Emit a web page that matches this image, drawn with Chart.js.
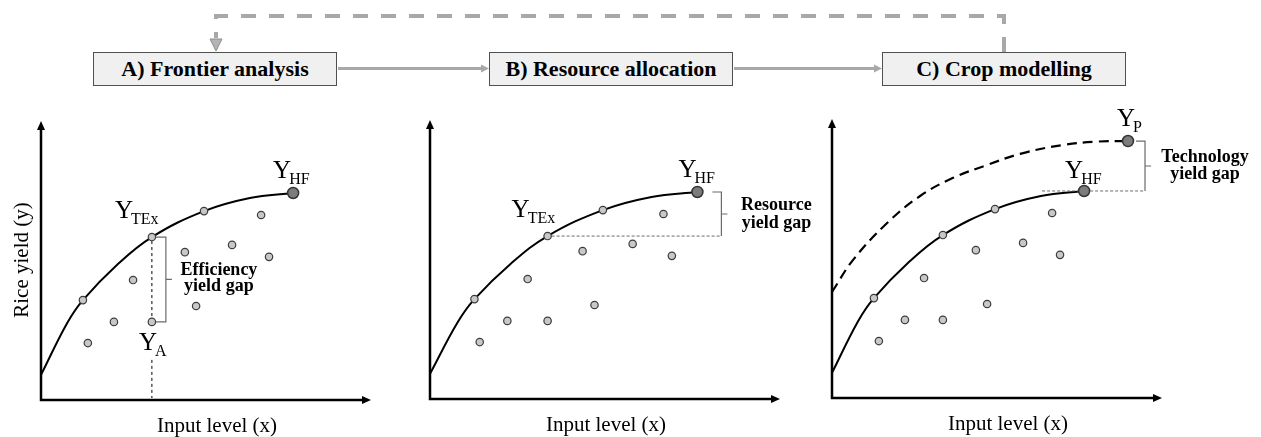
<!DOCTYPE html>
<html>
<head>
<meta charset="utf-8">
<script src="https://cdn.jsdelivr.net/npm/chart.js@4.4.1/dist/chart.umd.min.js"></script>
<style>
    html, body { margin: 0; padding: 0; background: #fff; }
    #page { position: relative; width: 1261px; height: 437px; overflow: hidden; background: #fff; }
    .box {
        position: absolute; top: 52px; width: 242px; height: 32px;
        background: #f0f0f0; border: 1px solid #505050;
        font-family: "Liberation Serif", "Times New Roman", serif;
        font-weight: bold; font-size: 22px; color: #000;
        display: flex; align-items: center; justify-content: center;
    }
    canvas { position: absolute; }
    svg { position: absolute; left: 0; top: 0; }
</style>
</head>
<body>
<div id="page">
    <svg width="1261" height="100">
        <path d="M1004 52 V16 H216 V38" fill="none" stroke="#a8a8a8" stroke-width="4" stroke-dasharray="15 13"/>
        <polygon points="210,39 222,39 216,51" fill="#b4b4b4" stroke="#8c8c8c" stroke-width="1"/>
        <line x1="338" y1="68.5" x2="481" y2="68.5" stroke="#a8a8a8" stroke-width="3"/>
        <polygon points="481,64.5 489,68.5 481,72.5" fill="#a8a8a8"/>
        <line x1="734" y1="68.5" x2="874" y2="68.5" stroke="#a8a8a8" stroke-width="3"/>
        <polygon points="874,64.5 882,68.5 874,72.5" fill="#a8a8a8"/>
    </svg>
    <div class="box" style="left:93px">A) Frontier analysis</div>
    <div class="box" style="left:489px">B) Resource allocation</div>
    <div class="box" style="left:882px">C) Crop modelling</div>
    <canvas id="panelA" width="420" height="342" style="left:0px;top:95px"></canvas>
    <canvas id="panelB" width="400" height="342" style="left:420px;top:95px"></canvas>
    <canvas id="panelC" width="441" height="342" style="left:820px;top:95px"></canvas>
</div>
<script>
// frontier curve (solid line), axis units 0-10
const frontierX = [0, 0.79, 1.27, 2.30, 3.36, 4.94, 6.33, 7.64];
const frontierY = [0.90, 2.75, 3.58, 4.84, 5.84, 6.77, 7.24, 7.42];

// farms lying on the frontier
const onFrontierX = [1.27, 3.36, 4.94];
const onFrontierY = [3.58, 5.84, 6.77];

// other farms below the frontier
const farmX = [1.42, 2.21, 2.79, 3.36, 4.36, 4.70, 5.79, 6.67, 6.91];
const farmY = [2.04, 2.80, 4.30, 2.80, 5.30, 3.37, 5.56, 6.63, 5.13];

// highest farmer yield
const hfX = [7.64];
const hfY = [7.42];

// potential yield curve (dashed) and its end point
const potentialX = [0, 0.64, 1.67, 2.67, 3.67, 4.70, 5.70, 7.0, 8.03, 8.97];
const potentialY = [3.80, 4.95, 6.27, 7.24, 7.89, 8.35, 8.75, 9.07, 9.19, 9.21];
const ypX = [8.97];
const ypY = [9.21];

const serif = '"Liberation Serif", serif';

function pts(xs, ys) {
    return xs.map((x, i) => ({ x: x, y: ys[i] }));
}

function px(chart, x, y) {
    return [chart.scales.x.getPixelForValue(x), chart.scales.y.getPixelForValue(y)];
}

function subLabel(ctx, x, y, main, sub) {
    ctx.fillStyle = '#000';
    ctx.textAlign = 'left';
    ctx.textBaseline = 'alphabetic';
    ctx.font = '25px ' + serif;
    ctx.fillText(main, x, y);
    const w = ctx.measureText(main).width;
    ctx.font = '16px ' + serif;
    ctx.fillText(sub, x + w - 2, y + 6);
}

function gapText(ctx, cx, y, line1, line2, step) {
    ctx.fillStyle = '#000';
    ctx.textAlign = 'center';
    ctx.textBaseline = 'alphabetic';
    ctx.font = 'bold 18px ' + serif;
    ctx.fillText(line1, cx, y);
    ctx.fillText(line2, cx, y + step);
}

function bracket(ctx, x, y1, y2, topTick, botTick) {
    ctx.save();
    ctx.strokeStyle = '#6a6a6a';
    ctx.lineWidth = 1.2;
    ctx.setLineDash([]);
    ctx.beginPath();
    ctx.moveTo(x - topTick, y1);
    ctx.lineTo(x, y1);
    ctx.lineTo(x, y2);
    ctx.lineTo(x - botTick, y2);
    const mid = (y1 + y2) / 2;
    ctx.moveTo(x, mid);
    ctx.lineTo(x + 6, mid);
    ctx.stroke();
    ctx.restore();
}

function dashed(ctx, x1, y1, x2, y2, color, dash) {
    ctx.save();
    ctx.strokeStyle = color;
    ctx.lineWidth = 1;
    ctx.setLineDash(dash);
    ctx.beginPath();
    ctx.moveTo(x1, y1);
    ctx.lineTo(x2, y2);
    ctx.stroke();
    ctx.restore();
}

const axesPlugin = {
    id: 'axesArrows',
    beforeDatasetsDraw(chart) {
        const ctx = chart.ctx;
        const a = chart.chartArea;
        ctx.save();
        ctx.strokeStyle = '#000';
        ctx.fillStyle = '#000';
        ctx.lineWidth = 2.5;
        ctx.beginPath();
        ctx.moveTo(a.left, a.top + 8);
        ctx.lineTo(a.left, a.bottom);
        ctx.lineTo(a.right - 8, a.bottom);
        ctx.stroke();
        ctx.beginPath();
        ctx.moveTo(a.left, a.top);
        ctx.lineTo(a.left - 4, a.top + 9);
        ctx.lineTo(a.left + 4, a.top + 9);
        ctx.closePath();
        ctx.fill();
        ctx.beginPath();
        ctx.moveTo(a.right, a.bottom);
        ctx.lineTo(a.right - 9, a.bottom - 4);
        ctx.lineTo(a.right - 9, a.bottom + 4);
        ctx.closePath();
        ctx.fill();
        ctx.font = '21px ' + serif;
        ctx.textAlign = 'center';
        ctx.textBaseline = 'alphabetic';
        ctx.fillText('Input level (x)', a.left + 176, a.bottom + 32);
        ctx.restore();
    }
};

function baseDatasets() {
    return [
        {
            data: pts(hfX, hfY), pointRadius: 5.5, pointBackgroundColor: '#7c7c7c',
            pointBorderColor: '#333', pointBorderWidth: 1.5, showLine: false, order: 0
        },
        {
            data: pts(onFrontierX, onFrontierY).concat(pts(farmX, farmY)), pointRadius: 3.7,
            pointBackgroundColor: '#c8c8c8', pointBorderColor: '#3c3c3c', pointBorderWidth: 1.2,
            showLine: false, order: 1
        },
        {
            data: pts(frontierX, frontierY), showLine: true, pointRadius: 0, borderColor: '#000',
            borderWidth: 2, tension: 0.4, order: 3
        }
    ];
}

function makeChart(id, pad, datasets, extra) {
    return new Chart(document.getElementById(id), {
        type: 'scatter',
        data: { datasets: datasets },
        options: {
            responsive: false,
            animation: false,
            clip: false,
            layout: { padding: pad },
            plugins: { legend: { display: false }, tooltip: { enabled: false } },
            scales: {
                x: { type: 'linear', min: 0, max: 10, display: false },
                y: { type: 'linear', min: 0, max: 10, display: false }
            }
        },
        plugins: [axesPlugin, { id: 'notes', afterDatasetsDraw: extra }]
    });
}

// A) Frontier analysis
makeChart('panelA', { left: 41, top: 26, right: 49, bottom: 37 }, baseDatasets(), function (chart) {
    const ctx = chart.ctx;
    const [tx, ty] = px(chart, onFrontierX[1], onFrontierY[1]);
    const [ax, ay] = px(chart, farmX[3], farmY[3]);
    const [hx, hy] = px(chart, hfX[0], hfY[0]);
    const bottom = chart.chartArea.bottom;
    dashed(ctx, tx, ty + 4, ax, ay - 4, '#000', [3, 3]);
    dashed(ctx, ax, ay + 38, ax, bottom - 2, '#000', [3, 3]);
    subLabel(ctx, hx - 20, hy - 15, 'Y', 'HF');
    subLabel(ctx, tx - 37, ty - 19, 'Y', 'TEx');
    subLabel(ctx, ax - 13, ay + 28, 'Y', 'A');
    bracket(ctx, tx + 14, ty, ay, 10, 10);
    gapText(ctx, tx + 67, (ty + ay) / 2 - 4, 'Efficiency', 'yield gap', 16);
    ctx.save();
    ctx.translate(22, 165);
    ctx.rotate(-Math.PI / 2);
    ctx.font = '21px ' + serif;
    ctx.fillStyle = '#000';
    ctx.textAlign = 'center';
    ctx.textBaseline = 'middle';
    ctx.fillText('Rice yield (y)', 0, 0);
    ctx.restore();
});

// B) Resource allocation
makeChart('panelB', { left: 10, top: 25, right: 40, bottom: 38 }, baseDatasets(), function (chart) {
    const ctx = chart.ctx;
    const [tx, ty] = px(chart, onFrontierX[1], onFrontierY[1]);
    const [hx, hy] = px(chart, hfX[0], hfY[0]);
    const bx = hx + 24;
    dashed(ctx, tx + 4, ty, bx, ty, '#6a6a6a', [3, 2]);
    bracket(ctx, bx, hy, ty, 9, 0);
    subLabel(ctx, hx - 19, hy - 15, 'Y', 'HF');
    subLabel(ctx, tx - 36, ty - 19, 'Y', 'TEx');
    gapText(ctx, bx + 55, (hy + ty) / 2 - 4, 'Resource', 'yield gap', 18);
});

// C) Crop modelling
const datasetsC = baseDatasets();
datasetsC.unshift({
    data: pts(ypX, ypY), pointRadius: 5.5, pointBackgroundColor: '#7c7c7c',
    pointBorderColor: '#333', pointBorderWidth: 1.5, showLine: false, order: 0
});
datasetsC.push({
    data: pts(potentialX, potentialY), showLine: true, pointRadius: 0, borderColor: '#000',
    borderWidth: 2.2, borderDash: [10, 6], tension: 0.4, order: 4
});
makeChart('panelC', { left: 12, top: 24, right: 99, bottom: 39 }, datasetsC, function (chart) {
    const ctx = chart.ctx;
    const [hx, hy] = px(chart, hfX[0], hfY[0]);
    const [yx, yy] = px(chart, ypX[0], ypY[0]);
    const bx = yx + 17;
    dashed(ctx, hx - 42, hy, hx - 6, hy, '#6a6a6a', [3, 2]);
    dashed(ctx, hx + 6, hy, bx, hy, '#6a6a6a', [3, 2]);
    bracket(ctx, bx, yy, hy, 9, 0);
    subLabel(ctx, yx - 11, yy - 15, 'Y', 'P');
    subLabel(ctx, hx - 19, hy - 13, 'Y', 'HF');
    gapText(ctx, bx + 60, (yy + hy) / 2 - 4, 'Technology', 'yield gap', 17);
});
</script>
</body>
</html>
